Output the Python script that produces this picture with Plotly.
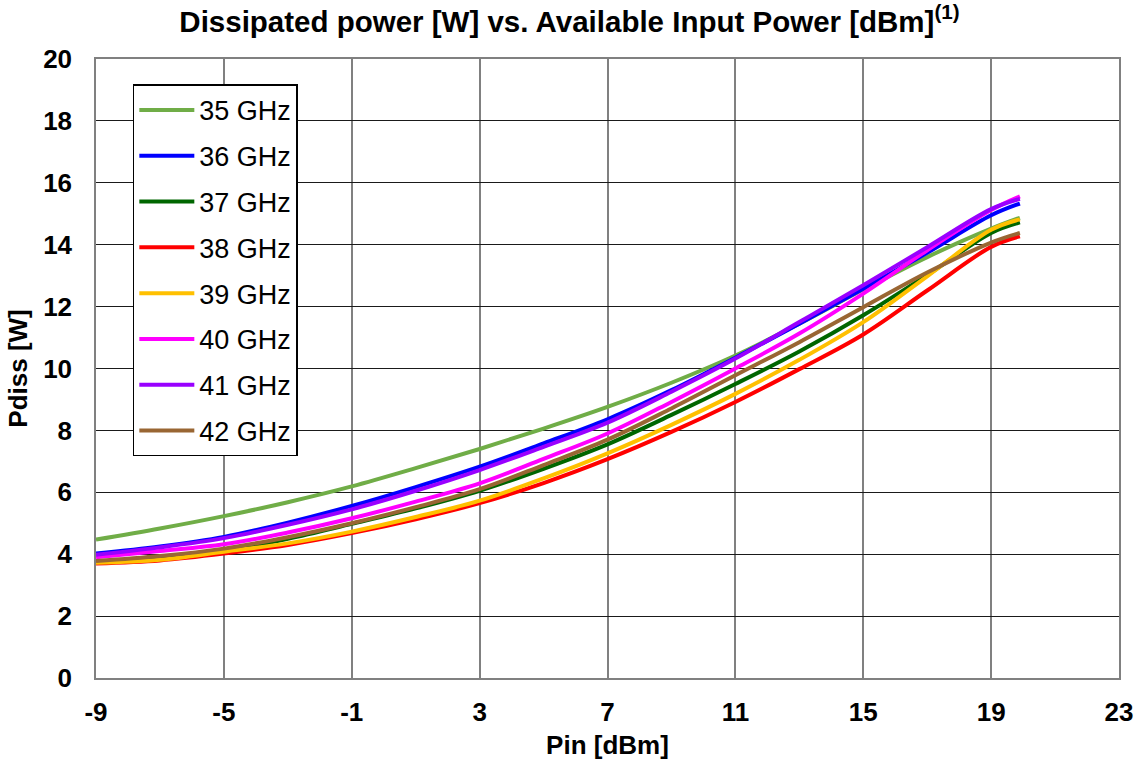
import plotly.graph_objects as go

pin = [-9, -7, -5, -3, -1, 1, 3, 5, 7, 9, 11, 13, 15, 17, 19, 19.9]

p35 = [4.47, 4.83, 5.23, 5.68, 6.19, 6.78, 7.40, 8.06, 8.76, 9.54, 10.42, 11.45, 12.55, 13.60, 14.52, 14.87]
p36 = [4.02, 4.25, 4.56, 5.02, 5.56, 6.17, 6.83, 7.58, 8.36, 9.30, 10.35, 11.45, 12.58, 13.74, 14.95, 15.33]
p37 = [3.75, 3.90, 4.12, 4.50, 4.98, 5.48, 6.05, 6.76, 7.55, 8.50, 9.50, 10.55, 11.72, 13.02, 14.38, 14.72]
p38 = [3.70, 3.80, 4.02, 4.30, 4.68, 5.13, 5.65, 6.30, 7.07, 7.95, 8.92, 9.98, 11.10, 12.52, 13.93, 14.27]
p39 = [3.72, 3.82, 4.08, 4.35, 4.73, 5.20, 5.73, 6.45, 7.26, 8.18, 9.18, 10.28, 11.50, 12.98, 14.48, 14.82]
p40 = [3.90, 4.10, 4.32, 4.70, 5.16, 5.70, 6.29, 7.08, 7.90, 8.92, 10.00, 11.13, 12.42, 13.82, 15.12, 15.56]
p41 = [3.98, 4.22, 4.52, 4.95, 5.45, 6.05, 6.72, 7.47, 8.25, 9.25, 10.32, 11.50, 12.69, 13.92, 15.15, 15.48]
p42 = [3.78, 3.94, 4.18, 4.55, 5.00, 5.52, 6.10, 6.88, 7.70, 8.71, 9.78, 10.85, 11.98, 13.10, 14.07, 14.38]

names = ["35 GHz", "36 GHz", "37 GHz", "38 GHz", "39 GHz", "40 GHz", "41 GHz", "42 GHz"]
series = [p35, p36, p37, p38, p39, p40, p41, p42]
colors = ["#70AD47", "#0000FF", "#006600", "#FF0000", "#FFC000", "#FF00FF", "#9900FF", "#996633"]

x_ticks = [-9, -5, -1, 3, 7, 11, 15, 19, 23]
y_ticks = [0, 2, 4, 6, 8, 10, 12, 14, 16, 18, 20]

FONT = "Liberation Sans, Arial, sans-serif"

fig = go.Figure()
for name, ys, c in zip(names, series, colors):
    fig.add_trace(go.Scatter(
        x=pin, y=ys, name=name, mode="lines",
        line=dict(color=c, width=4, shape="spline", smoothing=1.0),
        legendgroup=name,
    ))

fig.update_layout(
    width=1139, height=765,
    margin=dict(l=96, r=20, t=59, b=87),
    paper_bgcolor="white", plot_bgcolor="white",
    font=dict(family=FONT, color="black"),
    title=dict(
        text="Dissipated power [W] vs. Available Input Power [dBm]<sup>(1)</sup>",
        x=0.5, xanchor="center", y=0.972, yanchor="middle",
        font=dict(size=29.5, family=FONT, weight="bold", color="black"),
    ),
    showlegend=True,
    legend=dict(
        x=0.036, y=0.959, xanchor="left", yanchor="top",
        bgcolor="white", bordercolor="black", borderwidth=1.5,
        font=dict(size=27, family=FONT, color="black"),
        tracegroupgap=7.7, itemwidth=55,
    ),
    xaxis=dict(
        range=[-9, 23], tickvals=x_ticks, ticktext=[str(v) for v in x_ticks],
        showgrid=True, gridcolor="#808080", gridwidth=1.5,
        showline=True, linecolor="#808080", linewidth=1.5, mirror=True,
        zeroline=False, ticks="", ticklabelstandoff=10, automargin=False,
        tickfont=dict(size=26, family=FONT, weight="bold", color="black"),
        title=dict(text="Pin [dBm]", standoff=10,
                   font=dict(size=26, family=FONT, weight="bold", color="black")),
    ),
    yaxis=dict(
        range=[0, 20], tickvals=y_ticks, ticktext=[str(v) for v in y_ticks],
        showgrid=True, gridcolor="#1a1a1a", gridwidth=1,
        showline=True, linecolor="#808080", linewidth=1.5, mirror=True,
        zeroline=False, ticks="", ticklabelstandoff=17, automargin=False,
        tickfont=dict(size=26, family=FONT, weight="bold", color="black"),
        title=dict(text="Pdiss [W]", standoff=8,
                   font=dict(size=26, family=FONT, weight="bold", color="black")),
    ),
)

fig.write_html("out.html")
